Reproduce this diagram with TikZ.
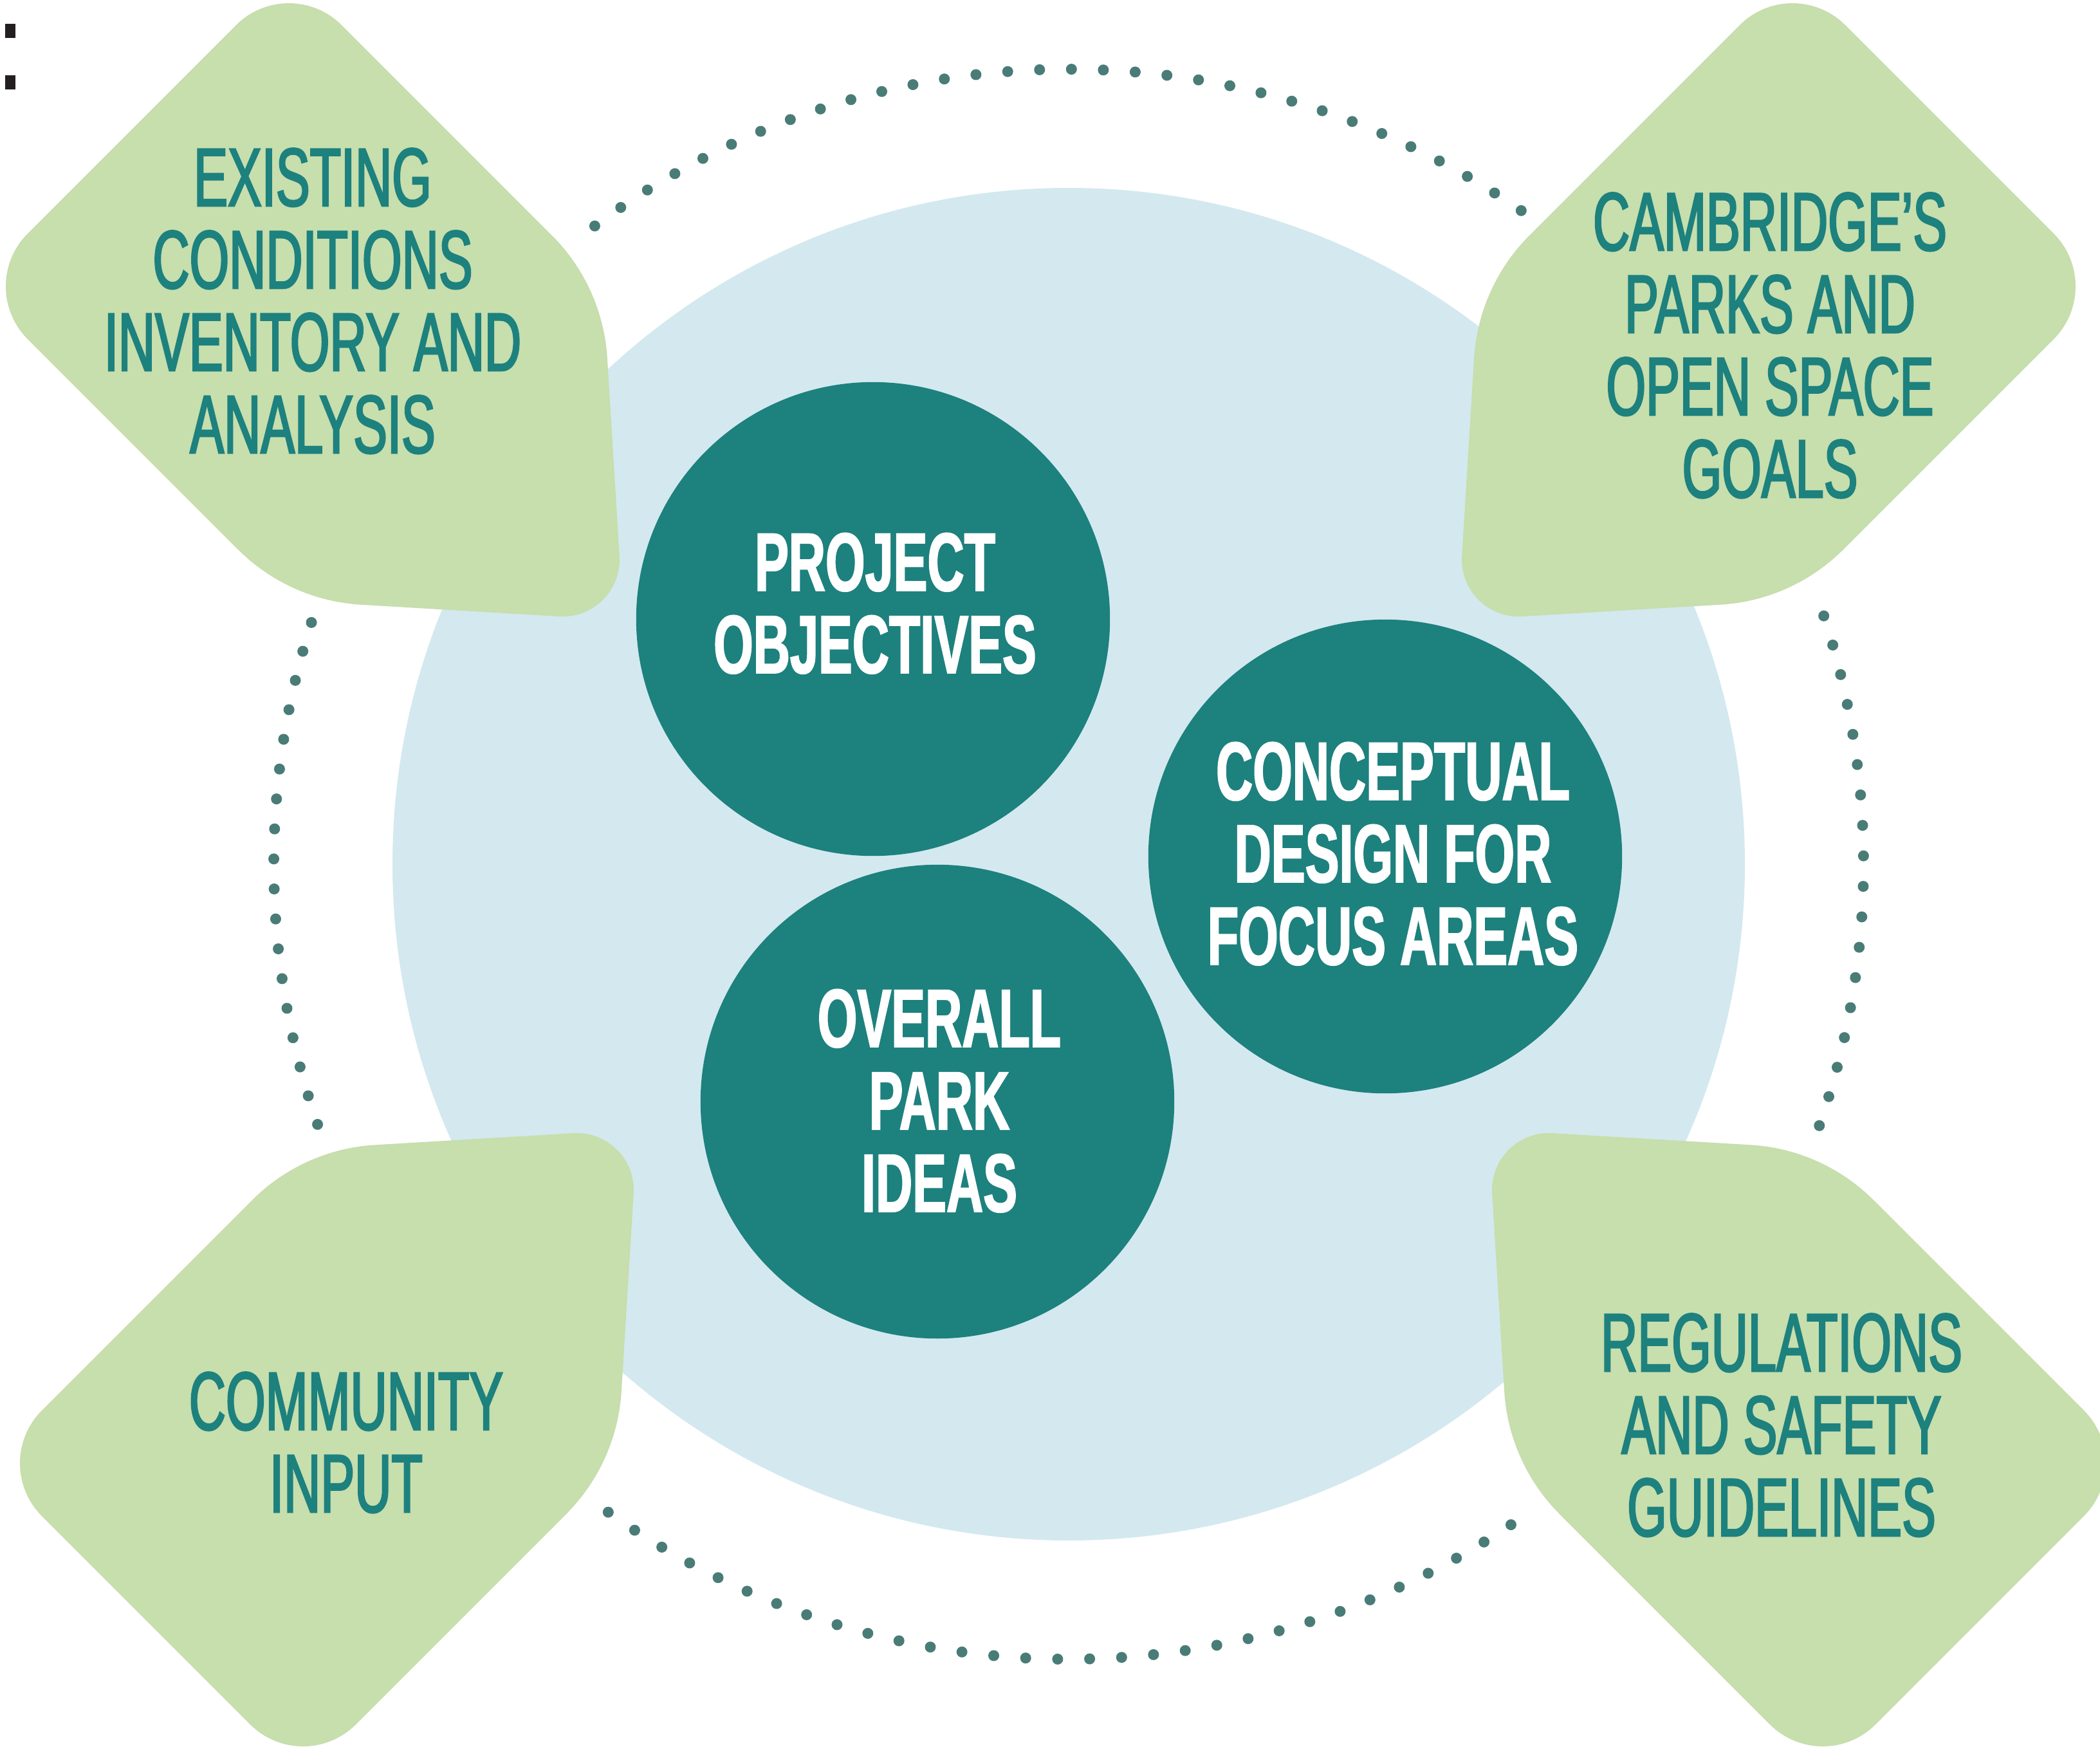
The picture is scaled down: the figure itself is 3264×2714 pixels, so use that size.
\documentclass[tikz,border=0pt]{standalone}
\usepackage{fontspec}
\newfontfamily\greenfont{Liberation Sans}[FakeStretch=0.617,FakeBold=2]
\newfontfamily\whitefont{Liberation Sans}[FakeStretch=0.617,BoldFeatures={FakeBold=1.5}]
\definecolor{leafgreen}{HTML}{C7DEAD}
\definecolor{tealtext}{HTML}{1D817E}
\definecolor{tealdisc}{HTML}{1D817E}
\definecolor{paleblue}{HTML}{D3E9EF}
\definecolor{dotcol}{HTML}{4A7C77}
\definecolor{markblack}{HTML}{231F20}
\newcommand\leafoutline{(-406,-82) -- (-82,-406) .. controls (-36.7,-451.3) and (36.7,-451.3) .. (82,-406)
 -- (408.8,-79.2) .. controls (459.8,-28.2) and (490.5,39.8) .. (494.9,111.8)
 -- (513.8,419.2) .. controls (517.1,472.1) and (473.1,516.2) .. (420.2,513)
 -- (111.8,494.7) .. controls (39.8,490.4) and (-28.2,459.8) .. (-79.2,408.8)
 -- (-406,82) .. controls (-451.3,36.7) and (-451.3,-36.7) .. (-406,-82) -- cycle}
\begin{document}
\begin{tikzpicture}[x=0.01cm,y=-0.01cm,
  leaf/.style={fill=leafgreen},
  greentext/.style={font=\greenfont\fontsize{36.5}{36.4}\selectfont, text=tealtext, align=center, inner sep=0pt, anchor=base},
  whitetext/.style={font=\whitefont\bfseries\fontsize{36.5}{36.4}\selectfont, text=white, align=center, inner sep=0pt, anchor=base},
  dotted ring/.style={fill=dotcol},
  disc/.style={circle, fill=tealdisc, minimum size=7.36cm, inner sep=0pt}]
\useasboundingbox (0,0) rectangle (3264,2714);
\fill[white] (0,0) rectangle (3264,2714);
% marks
\fill[markblack] (8,37) rectangle (24,59);
\fill[markblack] (8,117) rectangle (24,139);
% dotted arcs
\begin{scope}[shift={(1661,1343)}]
  \foreach \i in {0,...,31} \fill[dotted ring] ({-126.6+2.3*\i}:1235.5) circle (8.5);
  \foreach \i in {0,...,17} \fill[dotted ring] ({-162.3-2.165*\i}:1235.5) circle (8.5);
  \foreach \i in {0,...,17} \fill[dotted ring] ({-18.2+2.2*\i}:1235.5) circle (8.5);
  \foreach \i in {0,...,30} \fill[dotted ring] ({125.4-2.307*\i}:1235.5) circle (8.5);
\end{scope}
% pale circle
\fill[paleblue] (1661,1343) circle (1051);
% green shapes
\begin{scope}[shift={(449,445)}] \fill[leaf] \leafoutline; \end{scope}
\begin{scope}[shift={(2786,445)},xscale=-1] \fill[leaf] \leafoutline; \end{scope}
\begin{scope}[shift={(471,2274)},yscale=-1] \fill[leaf] \leafoutline; \end{scope}
\begin{scope}[shift={(2833,2274)},xscale=-1,yscale=-1] \fill[leaf] \leafoutline; \end{scope}
% teal discs
\node[disc] (po) at (1357,962) {};
\node[disc] (opi) at (1457,1712) {};
\node[disc] (cd) at (2153,1331) {};
% texts (anchored at the baseline of their last line)
\node[greentext] (tl) at (486,704) {EXISTING\\CONDITIONS\\INVENTORY AND\\ANALYSIS};
\node[greentext] (tr) at (2751,773) {CAMBRIDGE’S\\PARKS AND\\OPEN SPACE\\GOALS};
\node[greentext] (bl) at (538,2350) {COMMUNITY\\INPUT};
\node[greentext] (br) at (2769,2387) {REGULATIONS\\AND SAFETY\\GUIDELINES};
\node[whitetext] (pot) at (1360,1046) {PROJECT\\OBJECTIVES};
\node[whitetext] (opit) at (1460,1883) {OVERALL\\PARK\\IDEAS};
\node[whitetext] (cdt) at (2165,1499) {CONCEPTUAL\\DESIGN FOR\\FOCUS AREAS};
\end{tikzpicture}
\end{document}
